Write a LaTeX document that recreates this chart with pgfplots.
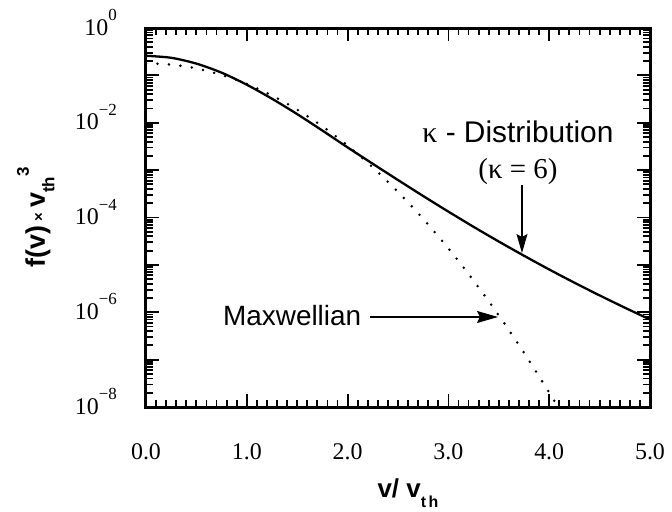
\documentclass[border=0pt]{standalone}
\usepackage{fontspec}
\setmainfont{Liberation Serif}
\newfontfamily\hv{Liberation Sans}
\usepackage{pgfplots}
\pgfplotsset{compat=1.18}
\usetikzlibrary{arrows.meta}
\newcommand{\fs}[1]{\fontsize{#1}{#1}\selectfont}
\newcommand{\tl}[1]{10\raisebox{0.6em}{\fs{17}#1}}
\begin{document}
\begin{tikzpicture}
\useasboundingbox (-146bp,-105bp) rectangle (526bp,407bp);
\begin{axis}[
  scale only axis, width=504bp, height=379bp,
  xmin=0, xmax=5, ymode=log, ymin=1e-8, ymax=1,
  axis line style={line width=3bp},
  tick style={line width=1.8bp, black},
  major tick length=13bp, minor tick length=7bp,
  tick align=inside,
  xtick={0,1,2,3,4,5}, xticklabels={0.0,1.0,2.0,3.0,4.0,5.0},
  minor x tick num=9,
  ytick={1e-8,1e-7,1e-6,1e-5,1e-4,1e-3,1e-2,1e-1,1},
  yticklabels={{\tl{−8}},{},{\tl{−6}},{},{\tl{−4}},{},{\tl{−2}},{},{\tl{0}}},
  xticklabel style={font=\fs{24}, anchor=base, inner sep=0pt, yshift=-52bp},
  yticklabel style={font=\fs{24}, anchor=base east, inner sep=0pt, xshift=-29bp, yshift=-7bp},
  xlabel={v/ v\raisebox{-0.4em}{\fs{16}t\,h}},
  xlabel style={at={([xshift=10bp,yshift=-90bp]axis description cs:0.5,0)}, anchor=base, font=\hv\bfseries\fs{26}},
  ylabel={f(v)\,\raisebox{0.05em}{\fs{15}×}\,v\raisebox{-0.35em}{\fs{17}th}\raisebox{0.6em}{\fs{17}3}},
  ylabel style={at={([xshift=-101bp]axis description cs:0,0.5)}, anchor=base, rotate=0, font=\hv\bfseries\fs{27}},
]
% kappa distribution (kappa = 6)
\addplot[line width=2.3bp, smooth] coordinates {
(0.00,2.59e-1) (0.25,2.35e-1) (0.50,1.77e-1) (0.75,1.14e-1) (1.00,6.35e-2)
(1.25,3.21e-2) (1.50,1.52e-2) (1.75,6.84e-3) (2.00,3.02e-3) (2.25,1.36e-3)
(2.50,6.18e-4) (2.75,2.84e-4) (3.00,1.33e-4) (3.25,6.35e-5) (3.50,3.11e-5)
(3.75,1.56e-5) (4.00,8.00e-6) (4.25,4.21e-6) (4.50,2.27e-6) (4.75,1.25e-6)
(5.00,7.03e-7)};
% Maxwellian
\addplot[line width=2.8bp, line cap=round, dash pattern=on 0bp off 11.5bp, smooth] coordinates {
(0.00,1.80e-1) (0.25,1.69e-1) (0.50,1.40e-1) (0.75,1.02e-1) (1.00,6.61e-2)
(1.25,3.76e-2) (1.50,1.89e-2) (1.75,8.40e-3) (2.00,3.29e-3) (2.25,1.14e-3)
(2.50,3.47e-4) (2.75,9.33e-5) (3.00,2.22e-5) (3.25,4.65e-6) (3.50,8.59e-7)
(3.75,1.40e-7) (4.00,2.02e-8) (4.10,8.99e-9)};
\node[anchor=base, font=\hv\fs{30}, inner sep=0pt] at (axis cs:3.69,3.74e-3) {{\rmfamily κ} - Distribution};
\node[anchor=base, font=\fs{29}, inner sep=0pt] at (axis cs:3.69,6.5e-4) {(κ = 6)};
\node[anchor=base west, font=\hv\fs{28}, inner sep=0pt] at (axis cs:0.764,5.38e-7) {Maxwellian};
\draw[line width=1.1bp, -{Stealth[length=19bp,width=11bp,inset=3bp]}] (axis cs:3.73,4.85e-4) -- (axis cs:3.73,1.78e-5);
\draw[line width=1.1bp, -{Stealth[length=21bp,width=12bp,inset=3bp]}] (axis cs:2.222,7.94e-7) -- (axis cs:3.492,7.94e-7);
\end{axis}
\end{tikzpicture}
\end{document}
